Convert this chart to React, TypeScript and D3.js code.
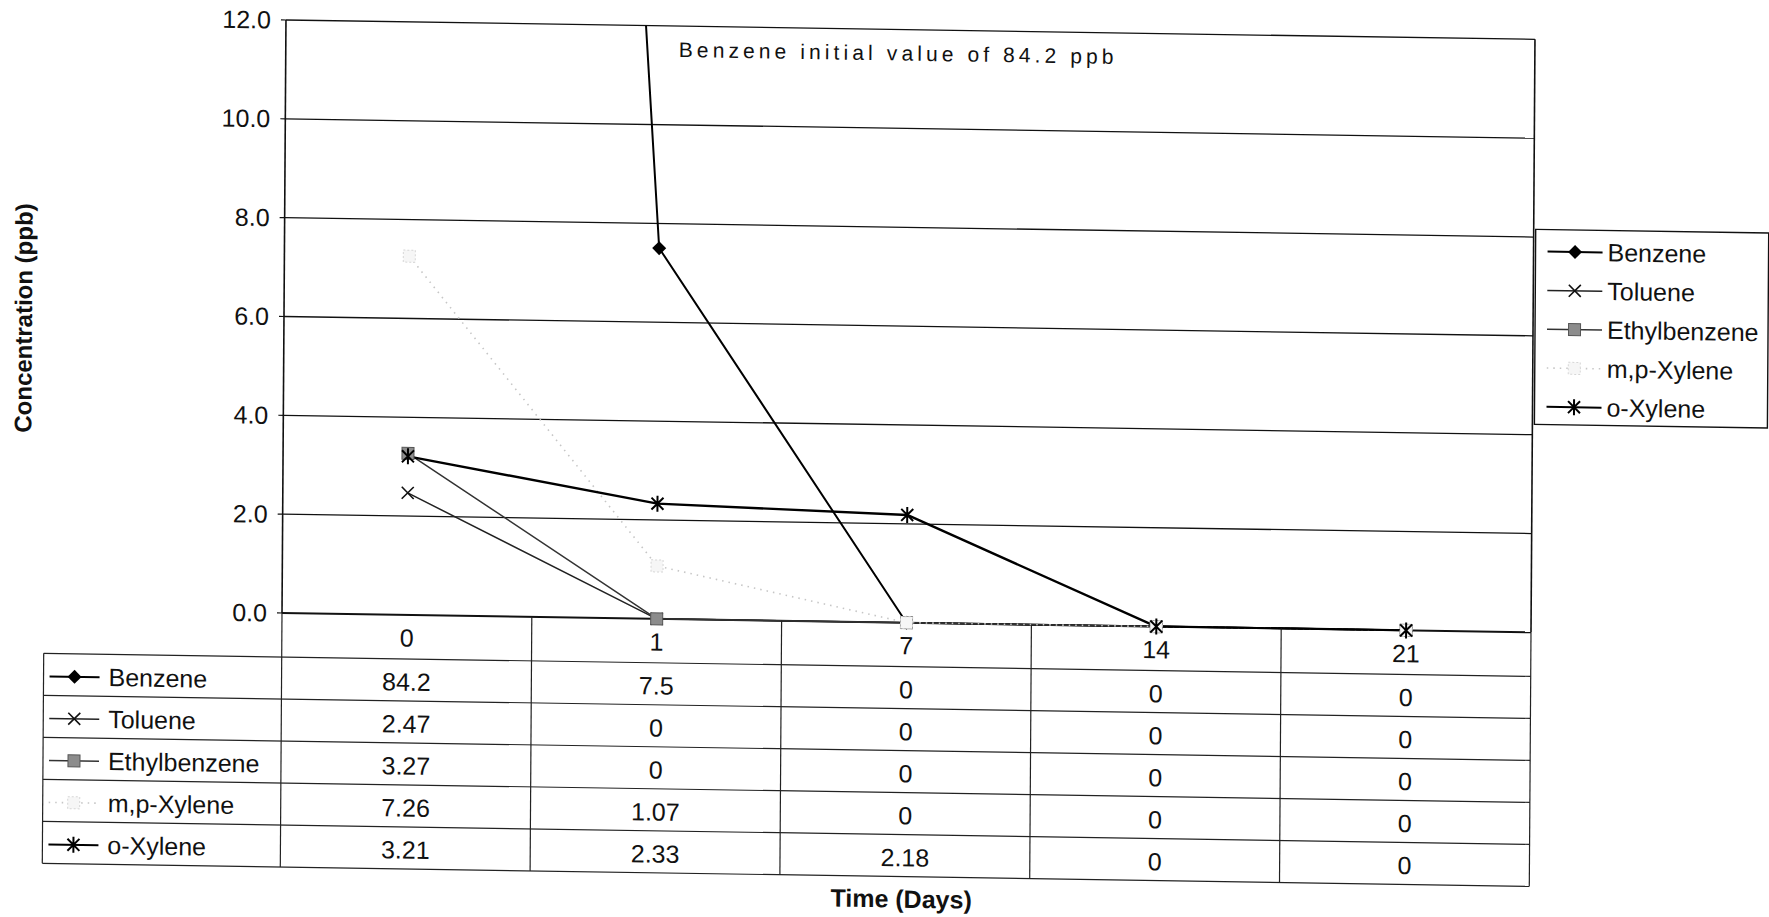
import React from 'react';
import * as d3 from 'd3';

const categories = ['0', '1', '7', '14', '21'];
const seriesNames = ['Benzene', 'Toluene', 'Ethylbenzene', 'm,p-Xylene', 'o-Xylene'];
const benzene = [84.2, 7.5, 0, 0, 0];
const toluene = [2.47, 0, 0, 0, 0];
const ethylbenzene = [3.27, 0, 0, 0, 0];
const mpXylene = [7.26, 1.07, 0, 0, 0];
const oXylene = [3.21, 2.33, 2.18, 0, 0];
const yTicks = [0, 2, 4, 6, 8, 10, 12];
const annotation = 'Benzene initial value of 84.2 ppb';
const xTitle = 'Time (Days)';
const yTitle = 'Concentration (ppb)';

const seriesValues = [benzene, toluene, ethylbenzene, mpXylene, oXylene];

type MarkerType = 'diamond' | 'x' | 'square' | 'light' | 'star';
const seriesStyles: { stroke: string; width: number; dash?: string; marker: MarkerType }[] = [
  { stroke: '#000', width: 2, marker: 'diamond' },
  { stroke: '#222', width: 1.5, marker: 'x' },
  { stroke: '#333', width: 1.5, marker: 'square' },
  { stroke: '#c6c6c6', width: 1.6, dash: '1.5,5', marker: 'light' },
  { stroke: '#000', width: 2.4, marker: 'star' },
];

const W = 1769;
const H = 917;
const FONT = 'Liberation Sans, Arial, sans-serif';

function Marker({ type, cx, cy }: { type: MarkerType; cx: number; cy: number }) {
  switch (type) {
    case 'diamond':
      return <path d={`M${cx},${cy - 7}L${cx + 7},${cy}L${cx},${cy + 7}L${cx - 7},${cy}Z`} fill="#000" />;
    case 'x':
      return (
        <path d={`M${cx - 6},${cy - 6}L${cx + 6},${cy + 6}M${cx - 6},${cy + 6}L${cx + 6},${cy - 6}`} stroke="#111" strokeWidth={1.6} fill="none" />
      );
    case 'square':
      return <rect x={cx - 6} y={cy - 6} width={12} height={12} fill="#8c8c8c" stroke="#555" strokeWidth={1} />;
    case 'light':
      return <rect x={cx - 6} y={cy - 6} width={12} height={12} fill="#f6f6f6" stroke="#d6d6d6" strokeWidth={1} strokeDasharray="2,2" />;
    case 'star':
      return (
        <path
          d={`M${cx - 6},${cy - 6}L${cx + 6},${cy + 6}M${cx - 6},${cy + 6}L${cx + 6},${cy - 6}M${cx},${cy - 8}L${cx},${cy + 8}`}
          stroke="#000"
          strokeWidth={2}
          fill="none"
        />
      );
  }
  return null;
}

function LegendSample({ i, x0, x1, cy }: { i: number; x0: number; x1: number; cy: number }) {
  const s = seriesStyles[i];
  return (
    <g>
      <line x1={x0} x2={x1} y1={cy} y2={cy} stroke={s.stroke} strokeWidth={Math.min(s.width, 2)} strokeDasharray={s.dash} />
      <Marker type={s.marker} cx={(x0 + x1) / 2} cy={cy} />
    </g>
  );
}

export default function App() {
  const plotLeft = 282;
  const plotRight = 1531;
  const plotTop = 20;
  const plotBottom = 613;

  const x = d3.scaleBand<string>().domain(categories).range([plotLeft, plotRight]).paddingInner(0).paddingOuter(0);
  const bw = x.bandwidth();
  const cx = (c: string) => (x(c) as number) + bw / 2;
  const y = d3.scaleLinear().domain([0, 12]).range([plotBottom, plotTop]);

  const line = d3
    .line<number>()
    .x((_, i) => cx(categories[i]))
    .y((d) => y(d));

  // table geometry
  const tableLeft = 44;
  const rowH = 42;
  const headerBottom = 657;
  const rowLines = d3.range(seriesNames.length + 1).map((i) => headerBottom + i * rowH);
  const tableBottom = rowLines[rowLines.length - 1];
  const colEdges = categories.map((c) => x(c) as number).concat([plotRight]);

  // legend box
  const legX0 = 1533;
  const legX1 = 1766;
  const legY0 = 210;
  const legY1 = 405;
  const legRows = seriesNames.map((_, i) => 232 + i * 38.8);

  const skew = 'matrix(1,0.0155,-0.0067,1,4.107,-4.371)';

  return (
    <svg width={W} height={H} viewBox={`0 0 ${W} ${H}`} style={{ position: 'absolute', left: 0, top: 0, background: '#fff' }} fontFamily={FONT}>
      <defs>
        <clipPath id="plotClip">
          <rect x={plotLeft} y={plotTop} width={plotRight - plotLeft} height={plotBottom - plotTop + 1} />
        </clipPath>
      </defs>
      <rect x={0} y={0} width={W} height={H} fill="#fff" />
      <g transform={skew}>
        {/* gridlines */}
        {yTicks.map((t) => (
          <line key={'g' + t} x1={plotLeft} x2={plotRight} y1={y(t)} y2={y(t)} stroke="#111" strokeWidth={t === 0 ? 2 : 1.3} />
        ))}
        {/* plot border */}
        <line x1={plotLeft} x2={plotLeft} y1={plotTop} y2={plotBottom} stroke="#111" strokeWidth={1.6} />
        <line x1={plotRight} x2={plotRight} y1={plotTop} y2={plotBottom} stroke="#111" strokeWidth={1.6} />
        {/* ticks + labels */}
        {yTicks.map((t) => (
          <g key={'t' + t}>
            <line x1={plotLeft - 5} x2={plotLeft} y1={y(t)} y2={y(t)} stroke="#111" strokeWidth={1.2} />
            <text x={267} y={y(t)} dy="0.35em" textAnchor="end" fontSize={25} fill="#111">
              {t.toFixed(1)}
            </text>
          </g>
        ))}

        {/* series lines */}
        <g clipPath="url(#plotClip)">
          {seriesValues.map((vals, i) => (
            <path
              key={'l' + i}
              d={line(vals) || ''}
              fill="none"
              stroke={seriesStyles[i].stroke}
              strokeWidth={seriesStyles[i].width}
              strokeDasharray={seriesStyles[i].dash}
              strokeLinejoin="round"
            />
          ))}
        </g>
        {/* markers */}
        {seriesValues.map((vals, i) => (
          <g key={'m' + i}>
            {vals.map((v, j) =>
              v <= 12 ? <Marker key={j} type={seriesStyles[i].marker} cx={cx(categories[j])} cy={y(v)} /> : null
            )}
          </g>
        ))}

        {/* annotation */}
        <text x={675} y={51} fontSize={21} letterSpacing={4.1} fill="#111">
          {annotation}
        </text>

        {/* data table */}
        {rowLines.map((ry, i) => (
          <line key={'r' + i} x1={tableLeft} x2={plotRight} y1={ry} y2={ry} stroke="#222" strokeWidth={1.2} />
        ))}
        {colEdges.map((ex, i) => (
          <line key={'c' + i} x1={ex} x2={ex} y1={plotBottom} y2={tableBottom} stroke="#222" strokeWidth={1.2} />
        ))}
        <line x1={tableLeft} x2={tableLeft} y1={headerBottom} y2={tableBottom} stroke="#222" strokeWidth={1.2} />
        {categories.map((c) => (
          <text key={'h' + c} x={cx(c)} y={(plotBottom + headerBottom) / 2 + 1} dy="0.35em" textAnchor="middle" fontSize={25} fill="#111">
            {c}
          </text>
        ))}
        {seriesNames.map((name, i) => {
          const yc = headerBottom + i * rowH + rowH / 2 + 2;
          return (
            <g key={'row' + i}>
              <LegendSample i={i} x0={50} x1={100} cy={yc} />
              <text x={109} y={yc} dy="0.35em" fontSize={25} fill="#111">
                {name}
              </text>
              {seriesValues[i].map((v, j) => (
                <text key={j} x={cx(categories[j])} y={yc} dy="0.35em" textAnchor="middle" fontSize={25} fill="#111">
                  {String(v)}
                </text>
              ))}
            </g>
          );
        })}

        {/* legend */}
        <rect x={legX0} y={legY0} width={legX1 - legX0} height={legY1 - legY0} fill="#fff" stroke="#111" strokeWidth={1.4} />
        {seriesNames.map((name, i) => (
          <g key={'leg' + i}>
            <LegendSample i={i} x0={1545} x1={1600} cy={legRows[i]} />
            <text x={1605} y={legRows[i]} dy="0.35em" fontSize={25} fill="#111">
              {name}
            </text>
          </g>
        ))}

        {/* axis titles */}
        <text x={903} y={898} textAnchor="middle" fontSize={25} fontWeight="bold" fill="#111">
          {xTitle}
        </text>
        <text transform={`translate(30,322) rotate(-90)`} textAnchor="middle" fontSize={24} fontWeight="bold" fill="#111">
          {yTitle}
        </text>
      </g>
    </svg>
  );
}
